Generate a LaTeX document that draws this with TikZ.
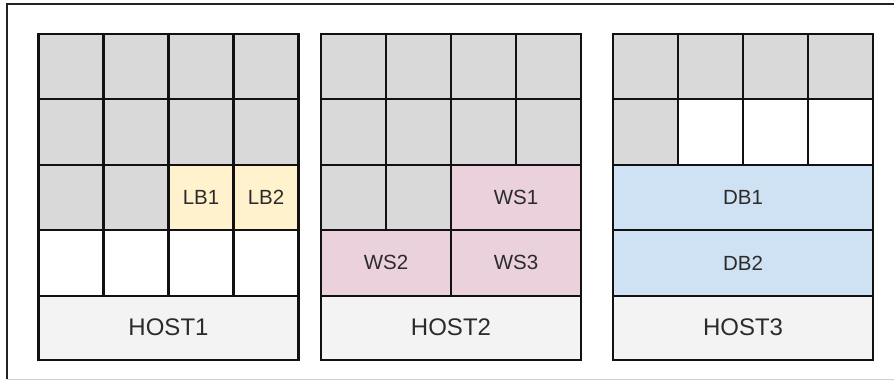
\documentclass[tikz,border=0pt]{standalone}
\usepackage{fontspec}
\setmainfont{Liberation Sans}
\begin{document}
\begin{tikzpicture}[x=1pt,y=-1pt,
  cellbox/.style={draw=linec, line width=2.1pt, minimum width=65pt, minimum height=65.4pt,
    anchor=north west, inner sep=0pt, outer sep=0pt, text=txtc,
    font=\fontsize{20.5}{24}\selectfont},
  grayc/.style={cellbox, fill=graycell},
  freec/.style={cellbox, fill=white},
  lbc/.style={cellbox, fill=lbfill},
  wsc/.style={cellbox, fill=wsfill, minimum width=130pt},
  dbc/.style={cellbox, fill=dbfill, minimum width=260pt},
  hostc/.style={cellbox, fill=hostfill, minimum width=260pt, minimum height=64pt,
    font=\fontsize{24}{28}\selectfont}]
\definecolor{linec}{HTML}{111111}
\definecolor{graycell}{HTML}{D9D9D9}
\definecolor{lbfill}{HTML}{FFF2CC}
\definecolor{wsfill}{HTML}{EAD1DC}
\definecolor{dbfill}{HTML}{CFE2F3}
\definecolor{hostfill}{HTML}{F3F3F3}
\definecolor{txtc}{HTML}{2B2B2B}
\definecolor{framedark}{HTML}{222222}
\definecolor{framelight}{HTML}{D0D0D0}
\useasboundingbox (0,0) rectangle (894,381);
\fill[white] (0,0) rectangle (894,381);
% outer frame
\coordinate (fTL) at (7,4);
\coordinate (fTR) at (894,4);
\coordinate (fBL) at (7,379);
\coordinate (fBR) at (894,379);
\draw[framelight, line width=1pt] (fBL) -- (fBR);
\draw[framedark, line width=2pt] (fBL) -- (fTL) -- (fTR);
% HOST1
\foreach \r/\y in {1/34,2/99.4} {
  \foreach \c/\x in {1/38.5,2/103.5,3/168.5,4/233.5} {
    \node[grayc] (hA-\r-\c) at (\x,\y) {};
  }
}
\node[grayc] (hA-3-1) at (38.5,164.8) {};
\node[grayc] (hA-3-2) at (103.5,164.8) {};
\node[lbc] (lb1) at (168.5,164.8) {LB1};
\node[lbc] (lb2) at (233.5,164.8) {LB2};
\foreach \c/\x in {1/38.5,2/103.5,3/168.5,4/233.5} {
  \node[freec] (hA-4-\c) at (\x,230.2) {};
}
\node[hostc] (host1) at (38.5,295.6) {HOST1};
% HOST2
\foreach \r/\y in {1/34,2/99.4} {
  \foreach \c/\x in {1/321,2/386,3/451,4/516} {
    \node[grayc] (hB-\r-\c) at (\x,\y) {};
  }
}
\node[grayc] (hB-3-1) at (321,164.8) {};
\node[grayc] (hB-3-2) at (386,164.8) {};
\node[wsc] (ws1) at (451,164.8) {WS1};
\node[wsc] (ws2) at (321,230.2) {WS2};
\node[wsc] (ws3) at (451,230.2) {WS3};
\node[hostc] (host2) at (321,295.6) {HOST2};
% HOST3
\foreach \c/\x in {1/613,2/678,3/743,4/808} {
  \node[grayc] (hC-1-\c) at (\x,34) {};
}
\node[grayc] (hC-2-1) at (613,99.4) {};
\node[freec] (hC-2-2) at (678,99.4) {};
\node[freec] (hC-2-3) at (743,99.4) {};
\node[freec] (hC-2-4) at (808,99.4) {};
\node[dbc] (db1) at (613,164.8) {DB1};
\node[dbc] (db2) at (613,230.2) {DB2};
\node[hostc] (host3) at (613,295.6) {HOST3};
\end{tikzpicture}
\end{document}
